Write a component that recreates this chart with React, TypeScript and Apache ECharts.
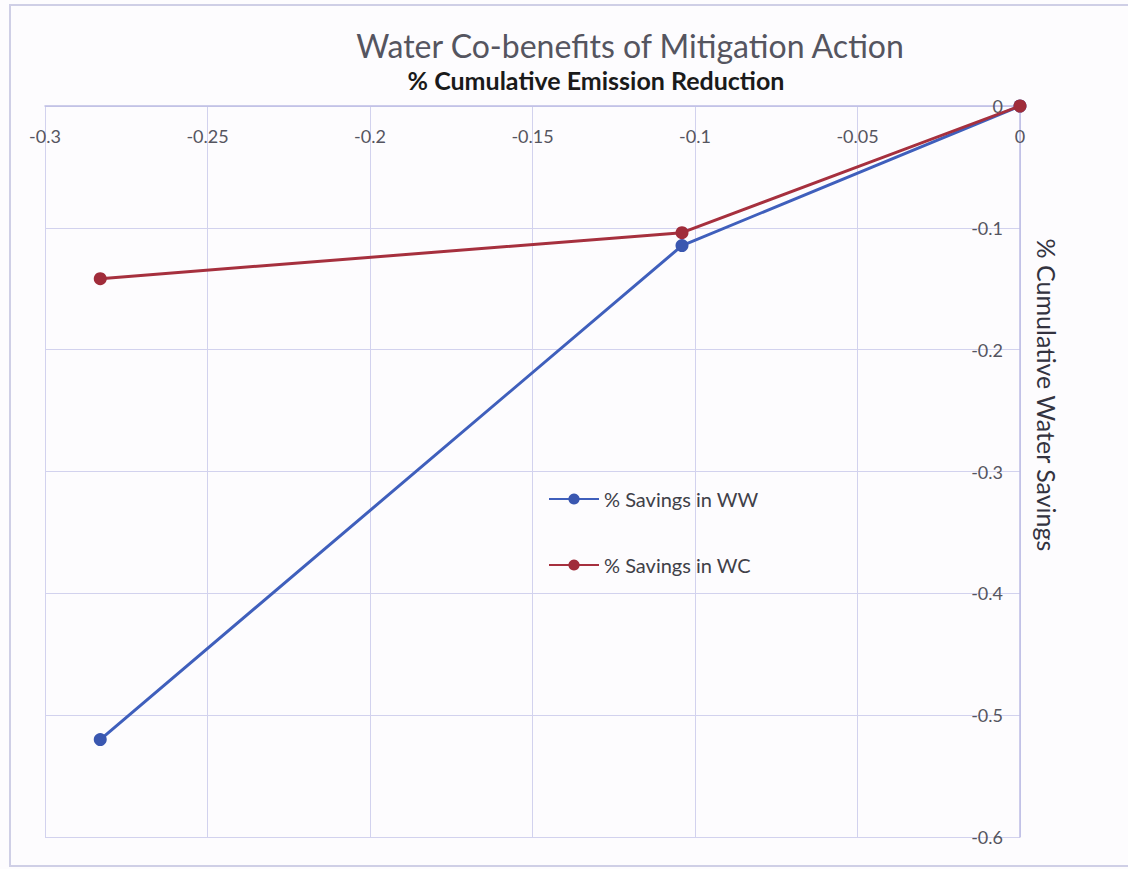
import React, { useEffect, useRef } from "react";
import * as echarts from "echarts";

const emissionReduction = [-0.283, -0.104, 0];
const savingsWW = [-0.52, -0.1146, 0];
const savingsWC = [-0.1417, -0.104, 0];
const seriesNames = ["% Savings in WW", "% Savings in WC"];
const titleText = "Water Co-benefits of Mitigation Action";
const xAxisTitle = "% Cumulative Emission Reduction";
const yAxisTitle = "% Cumulative Water Savings";

const FONT = "Lato, 'Open Sans', 'Noto Sans', sans-serif";
const GRID_COLOR = "#d2d2ee";
const AXIS_COLOR = "#bdbde4";
const LABEL_COLOR = "#555560";

export default function App() {
  const ref = useRef<HTMLDivElement>(null);

  useEffect(() => {
    if (!ref.current) return;
    const chart = echarts.init(ref.current, undefined, { renderer: "svg" });
    const toPairs = (ys: number[]) => emissionReduction.map((x, i) => [x, ys[i]]);
    chart.setOption({
      animation: false,
      backgroundColor: "#fdfcfe",
      textStyle: { fontFamily: FONT },
      title: [
        {
          text: titleText,
          left: 625,
          top: 24,
          textAlign: "center",
          textStyle: { fontFamily: FONT, fontSize: 32, fontWeight: "normal", color: "#555560" },
        },
        {
          text: xAxisTitle,
          left: 591,
          top: 62,
          textAlign: "center",
          textStyle: { fontFamily: FONT, fontSize: 25, fontWeight: "bold", color: "#1a1a1a" },
        },
      ],
      graphic: [
        {
          type: "rect",
          shape: { x: 10, y: 5, width: 1140, height: 861 },
          style: { fill: "none", stroke: "#cfcfe6", lineWidth: 2 },
          silent: true,
          z: -1,
        },
        {
          type: "text",
          x: 1047,
          y: 395,
          rotation: -Math.PI / 2,
          style: {
            text: yAxisTitle,
            fontFamily: FONT,
            fontSize: 25,
            fill: "#333340",
            align: "center",
            verticalAlign: "middle",
          },
        },
      ],
      legend: {
        orient: "vertical",
        left: 548,
        top: 489,
        padding: 0,
        itemGap: 46,
        itemWidth: 50,
        itemHeight: 14,
        textStyle: { fontFamily: FONT, fontSize: 20, color: "#404048" },
        data: seriesNames,
      },
      grid: { left: 45, right: 108, top: 106, bottom: 32 },
      xAxis: {
        type: "value",
        position: "top",
        min: -0.3,
        max: 0,
        interval: 0.05,
        axisLine: { show: true, onZero: false, lineStyle: { color: AXIS_COLOR, width: 1.5 } },
        axisTick: { show: false },
        axisLabel: {
          inside: true,
          margin: 21,
          fontFamily: FONT,
          fontSize: 18,
          color: LABEL_COLOR,
          showMinLabel: true,
          showMaxLabel: true,
        },
        splitLine: { show: true, lineStyle: { color: GRID_COLOR, width: 1 } },
      },
      yAxis: {
        type: "value",
        position: "right",
        min: -0.6,
        max: 0,
        interval: 0.1,
        axisLine: { show: true, onZero: false, lineStyle: { color: AXIS_COLOR, width: 1.5 } },
        axisTick: { show: false },
        axisLabel: {
          inside: true,
          margin: 17,
          fontFamily: FONT,
          fontSize: 18,
          color: LABEL_COLOR,
        },
        splitLine: { show: true, lineStyle: { color: GRID_COLOR, width: 1 } },
      },
      series: [
        {
          name: seriesNames[0],
          type: "line",
          data: toPairs(savingsWW),
          symbol: "circle",
          symbolSize: 13,
          lineStyle: { color: "#3f5fbc", width: 3 },
          itemStyle: { color: "#3a57b0" },
          z: 2,
        },
        {
          name: seriesNames[1],
          type: "line",
          data: toPairs(savingsWC),
          symbol: "circle",
          symbolSize: 13,
          lineStyle: { color: "#a6303e", width: 3 },
          itemStyle: { color: "#a02c3a" },
          z: 3,
        },
      ],
    });
    return () => chart.dispose();
  }, []);

  return (
    <div
      ref={ref}
      style={{ position: "fixed", left: 0, top: 0, width: 1128, height: 869 }}
    />
  );
}
